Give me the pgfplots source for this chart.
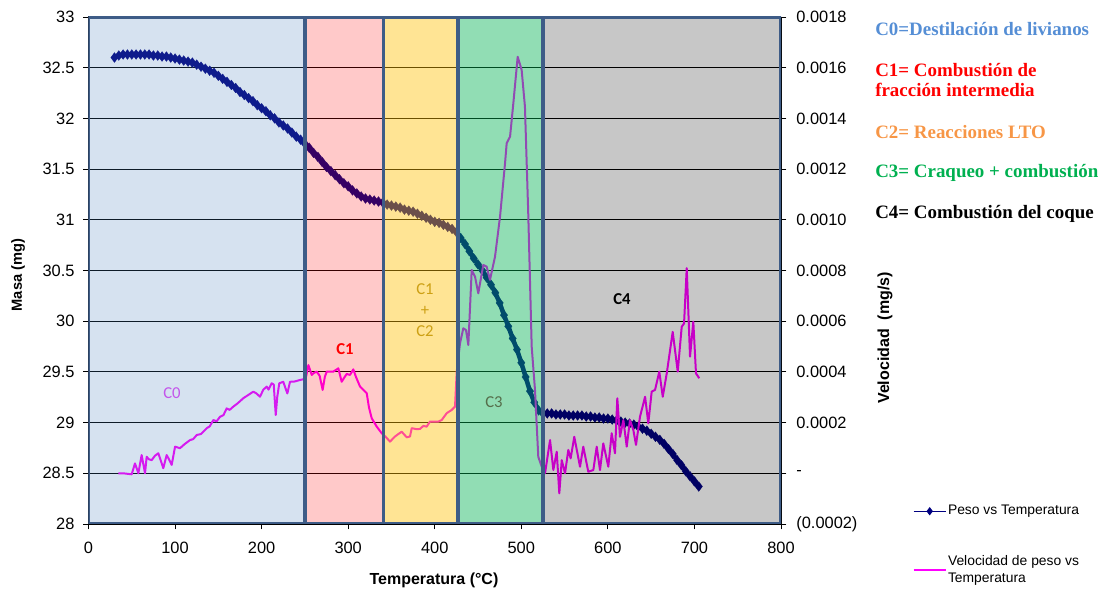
\documentclass[border=0pt]{standalone}
\usepackage{pgfplots}
\pgfplotsset{compat=1.18}
\usepackage{fontspec}
\setmainfont{Liberation Sans}
\newfontfamily\timesf{Liberation Serif}
\newfontfamily\carl{Carlito}
\definecolor{navyc}{RGB}{0,0,128}
\definecolor{magc}{RGB}{255,0,255}
\definecolor{bC0}{RGB}{68,123,186}
\definecolor{bC2}{RGB}{255,190,0}
\definecolor{bC3}{RGB}{0,176,80}
\definecolor{bordc}{RGB}{62,92,135}
\definecolor{tC0}{RGB}{85,142,213}
\definecolor{tC2}{RGB}{247,150,70}
\definecolor{tC3}{RGB}{0,176,80}
\definecolor{lC0}{RGB}{195,85,235}
\definecolor{lC12}{RGB}{205,160,20}
\definecolor{lC3}{RGB}{85,110,75}
\begin{document}
\begin{tikzpicture}
\path[use as bounding box] (-66.375pt,-50.25pt) rectangle (763.875pt,393pt);
\pgfplotsset{
  common/.style={at={(0,0)}, anchor=south west, scale only axis,
    width=519.375pt, height=380.25pt, xmin=0, xmax=800,
    tick align=outside, major tick length=4pt,
    tick style={black, line width=0.6pt},
    tick label style={font=\fontsize{12.3}{14}\selectfont},
    /pgf/number format/assume math mode=true,
    axis line style={black, line width=0.8pt, -}},
}
\begin{axis}[common,
  ymin=28, ymax=33,
  axis x line*=bottom, axis y line*=left,
  xtick={0,100,200,300,400,500,600,700,800},
  ytick={28,28.5,29,29.5,30,30.5,31,31.5,32,32.5,33},
  yticklabels={28,28.5,29,29.5,30,30.5,31,31.5,32,32.5,33},
  ymajorgrids, grid style={black, line width=0.8pt},
  xticklabel style={yshift=-6pt},
  yticklabel style={xshift=-3pt},
]
\addplot[navyc, line width=3.4pt, mark=diamond*, mark size=3.7pt,
  mark options={solid, fill=navyc, draw=navyc, line width=0.2pt}] table {
x y
30 32.60
35 32.62
40 32.63
45 32.63
50 32.63
55 32.63
60 32.63
65 32.63
70 32.63
75 32.62
80 32.62
85 32.61
90 32.61
95 32.60
100 32.59
105 32.58
110 32.57
115 32.56
120 32.55
125 32.53
130 32.51
135 32.49
140 32.47
145 32.45
150 32.42
155 32.39
160 32.36
165 32.33
170 32.30
175 32.26
180 32.23
185 32.20
190 32.17
195 32.13
200 32.10
205 32.07
210 32.03
215 32.00
220 31.96
225 31.93
230 31.90
235 31.86
240 31.82
245 31.79
250 31.75
255 31.71
260 31.66
265 31.62
270 31.57
275 31.52
280 31.48
285 31.44
290 31.40
295 31.36
300 31.33
305 31.29
310 31.26
315 31.23
320 31.21
325 31.20
330 31.19
335 31.18
340 31.17
345 31.15
350 31.14
355 31.13
360 31.12
365 31.10
370 31.09
375 31.08
380 31.06
385 31.04
390 31.02
395 31.00
400 30.98
405 30.97
410 30.95
415 30.93
420 30.91
425 30.88
430 30.82
435 30.76
440 30.69
445 30.62
450 30.56
455 30.50
460 30.43
465 30.36
470 30.28
475 30.18
480 30.06
485 29.95
490 29.83
495 29.72
500 29.59
505 29.45
510 29.31
515 29.20
520 29.12
525 29.09
530 29.09
535 29.09
540 29.08
545 29.08
550 29.08
555 29.07
560 29.07
565 29.07
570 29.07
575 29.06
580 29.06
585 29.05
590 29.05
595 29.04
600 29.04
605 29.03
610 29.02
615 29.01
620 29.00
625 28.99
630 28.98
635 28.96
640 28.94
645 28.92
650 28.89
655 28.86
660 28.83
665 28.79
670 28.74
675 28.69
680 28.63
685 28.58
690 28.52
695 28.47
700 28.42
705 28.37
};
\end{axis}
\begin{axis}[common,
  ymin=-0.0002, ymax=0.0018,
  axis x line=none, axis y line*=right,
  scaled y ticks=false,
  ytick={-0.0002,0,0.0002,0.0004,0.0006,0.0008,0.001,0.0012,0.0014,0.0016,0.0018},
  yticklabels={(0.0002),-,0.0002,0.0004,0.0006,0.0008,0.0010,0.0012,0.0014,0.0016,0.0018},
  yticklabel style={xshift=4pt},
  legend style={draw=none, fill=none, font=\fontsize{10.4}{12.5}\selectfont,
    at={(1.184,0.045)}, anchor=north west, row sep=27pt,
    nodes={align=left, inner sep=1pt}},
  legend cell align=left,
  legend image code/.code={\draw[mark repeat=2,mark phase=2,#1] plot coordinates {(0pt,0pt) (12pt,0pt) (24pt,0pt)};},
]
\addlegendimage{navyc, line width=0.8pt, mark=diamond*, mark size=2.5pt, mark options={fill=navyc}}
\addlegendentry{Peso vs Temperatura}
\addplot[magc, line width=1.5pt, line join=round] table {
x y
34.4 0.0
40 0.0
49.9 -0.04e-4
53.7 0.39e-4
57.6 0.0
61.4 0.72e-4
65.3 0.0
67.2 0.65e-4
70 0.55e-4
73.0 0.52e-4
77 0.70e-4
80.7 0.79e-4
86.4 0.20e-4
90.3 0.72e-4
93 0.55e-4
96.1 0.33e-4
100 1.05e-4
105.7 0.99e-4
111 1.15e-4
117.3 1.31e-4
121 1.35e-4
125 1.51e-4
130 1.55e-4
136.6 1.78e-4
140 1.85e-4
144.2 2.10e-4
148 2.05e-4
151.9 2.23e-4
156 2.30e-4
159.6 2.56e-4
163 2.50e-4
167.3 2.63e-4
172 2.75e-4
178.8 2.96e-4
185 3.10e-4
190.4 3.22e-4
194 3.15e-4
198.1 3.02e-4
202 3.30e-4
205.9 3.42e-4
208 3.30e-4
211.6 3.55e-4
214 3.50e-4
216.3 2.30e-4
218 3.00e-4
220.4 3.55e-4
225 3.61e-4
229.7 3.15e-4
232.8 3.61e-4
238 3.62e-4
244.3 3.68e-4
248.2 3.71e-4
251 3.75e-4
254 4.27e-4
257.9 3.88e-4
260 3.95e-4
263.6 4.01e-4
267 3.85e-4
270.5 3.29e-4
273 3.80e-4
275.2 4.01e-4
282.8 4.01e-4
288.6 4.14e-4
292.5 3.61e-4
295 3.75e-4
298.3 3.92e-4
302.1 3.88e-4
305.9 4.10e-4
309 3.80e-4
313.7 3.42e-4
321.4 3.16e-4
324 2.60e-4
327.2 2.17e-4
333 1.84e-4
338.7 1.58e-4
343 1.45e-4
348.3 1.25e-4
354.1 1.45e-4
358 1.55e-4
361.8 1.64e-4
367.6 1.42e-4
371.4 1.45e-4
373.4 1.78e-4
379.2 1.74e-4
383 1.75e-4
386.8 1.87e-4
390.7 1.84e-4
394.5 2.04e-4
398.4 2.04e-4
404.1 2.04e-4
408 2.10e-4
413.8 2.37e-4
419.6 2.50e-4
423.4 2.63e-4
425.4 4.01e-4
429.2 5.13e-4
433 5.72e-4
436.1 5.65e-4
438.8 5.06e-4
442.7 8.02e-4
446.5 7.76e-4
450.3 7.10e-4
456.1 8.22e-4
460 8.15e-4
463.8 7.63e-4
469.6 8.54e-4
475.4 10.12e-4
481.2 12.23e-4
483.1 13.02e-4
487 13.28e-4
490.8 14.60e-4
495.8 16.43e-4
500.4 15.91e-4
504.2 14.46e-4
508 10.26e-4
512 4.99e-4
515.8 3.29e-4
519.6 0.65e-4
523.6 0.26e-4
527.4 0.0
533.2 1.31e-4
537 0.13e-4
540.9 0.85e-4
543.9 -0.79e-4
546.7 0.52e-4
550.5 0.0
554.3 0.92e-4
557 0.59e-4
561.2 1.44e-4
567.8 0.26e-4
571.6 1.05e-4
577.4 0.06e-4
583.2 0.13e-4
587.1 1.05e-4
590.9 0.13e-4
594.7 1.18e-4
600.5 0.26e-4
604.4 1.58e-4
608.2 0.79e-4
610.9 2.96e-4
614 1.44e-4
617.9 2.10e-4
621.8 1.05e-4
625.5 2.10e-4
629.4 1.71e-4
632.5 1.12e-4
637.1 2.23e-4
643 3.02e-4
646.7 1.97e-4
650.6 3.22e-4
654.5 3.29e-4
659.4 4.01e-4
663.4 3.02e-4
668 3.94e-4
674.9 5.58e-4
680.7 4.01e-4
685.3 5.78e-4
688 5.91e-4
691.1 8.09e-4
694.9 4.60e-4
698.7 5.98e-4
701.8 3.94e-4
705.6 3.75e-4
};
\addlegendentry{Velocidad de peso vs\\Temperatura}
% stage bands on top, semi-transparent
\fill[bC0, fill opacity=0.22] (axis cs:0,-0.0002) rectangle (axis cs:250,0.0018);
\fill[red, fill opacity=0.21] (axis cs:250,-0.0002) rectangle (axis cs:341,0.0018);
\fill[bC2, fill opacity=0.42] (axis cs:341,-0.0002) rectangle (axis cs:427,0.0018);
\fill[bC3, fill opacity=0.43] (axis cs:427,-0.0002) rectangle (axis cs:525,0.0018);
\fill[black, fill opacity=0.22] (axis cs:525,-0.0002) rectangle (axis cs:800,0.0018);
\draw[bordc, line width=2.6pt] (axis cs:0,-0.0002) rectangle (axis cs:250,0.0018);
\draw[bordc, line width=2.6pt] (axis cs:250,-0.0002) rectangle (axis cs:341,0.0018);
\draw[bordc, line width=2.6pt] (axis cs:341,-0.0002) rectangle (axis cs:427,0.0018);
\draw[bordc, line width=2.6pt] (axis cs:427,-0.0002) rectangle (axis cs:525,0.0018);
\draw[bordc, line width=2.6pt] (axis cs:525,-0.0002) rectangle (axis cs:800,0.0018);
\end{axis}
\begin{scope}[x=0.75pt,y=0.75pt]
% stage labels inside
\node[text=lC0, font=\carl\fontsize{12.5}{14}\selectfont] at (83.5,131) {C0};
\node[text=red, font=\carl\bfseries\fontsize{12.5}{14}\selectfont] at (256.5,175) {C1};
\node[text=lC12, font=\carl\fontsize{12.5}{15.5}\selectfont, align=center] at (336.5,214) {C1\\+\\C2};
\node[text=lC3, font=\carl\fontsize{12.5}{14}\selectfont] at (405.5,122) {C3};
\node[text=black, font=\carl\bfseries\fontsize{12.5}{14}\selectfont] at (533.5,225) {C4};
% right notes
\node[anchor=west, text=tC0, font=\timesf\bfseries\fontsize{14.2}{16}\selectfont, inner sep=0pt] at (786.5,495) {C0=Destilación de livianos};
\node[anchor=west, text=red, font=\timesf\bfseries\fontsize{14.2}{16}\selectfont, inner sep=0pt] at (786.5,454) {C1= Combustión de};
\node[anchor=west, text=red, font=\timesf\bfseries\fontsize{14.2}{16}\selectfont, inner sep=0pt] at (786.5,434) {fracción intermedia};
\node[anchor=west, text=tC2, font=\timesf\bfseries\fontsize{14.2}{16}\selectfont, inner sep=0pt] at (786.5,392) {C2= Reacciones LTO};
\node[anchor=west, text=tC3, font=\timesf\bfseries\fontsize{14.2}{16}\selectfont, inner sep=0pt] at (786.5,351) {C3= Craqueo + combustión};
\node[anchor=west, text=black, font=\timesf\bfseries\fontsize{14.2}{16}\selectfont, inner sep=0pt] at (786.5,310) {C4= Combustión del coque};
% axis titles
\node[rotate=90, font=\bfseries\fontsize{11}{13}\selectfont] at (-70.5,249) {Masa (mg)};
\node[font=\bfseries\fontsize{12}{14}\selectfont] at (345.5,-56) {Temperatura (°C)};
\node[rotate=90, font=\bfseries\fontsize{12}{14}\selectfont] at (796.5,186) {Velocidad\ \ (mg/s)};
\end{scope}
\end{tikzpicture}
\end{document}
